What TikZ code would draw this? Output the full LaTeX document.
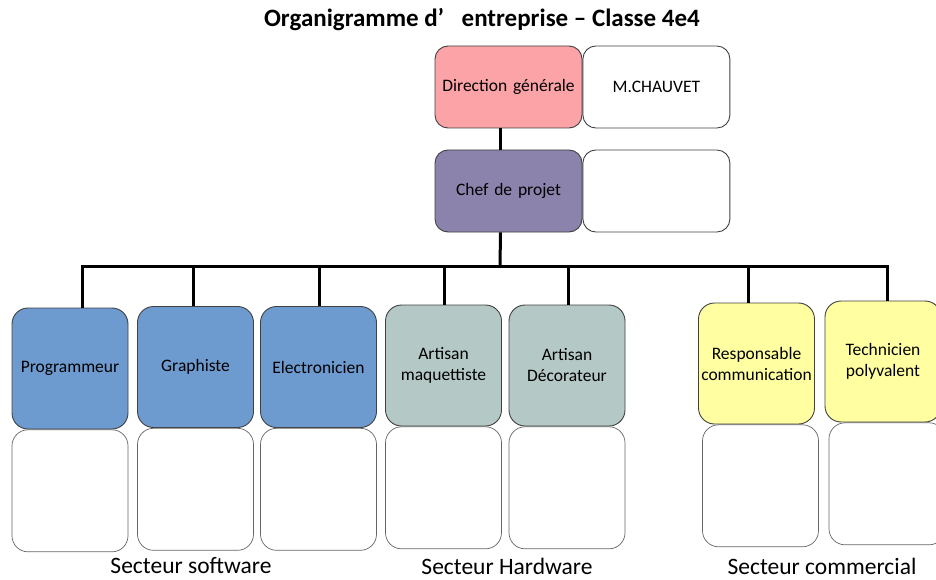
\documentclass[tikz,border=0pt]{standalone}
\usepackage{fontspec}
\setmainfont{Carlito}
\usetikzlibrary{positioning}
\definecolor{dirpink}{HTML}{FBA3A7}
\definecolor{chefpurple}{HTML}{8C83AD}
\definecolor{softblue}{HTML}{6E9BCF}
\definecolor{hardgrey}{HTML}{B4C8C5}
\definecolor{comyellow}{HTML}{FFFFA1}
\begin{document}
\begin{tikzpicture}[
        x=1pt, y=-1pt,
        node distance=0pt,
        head/.style={rectangle, draw=black!75, line width=0.9pt, rounded corners=13pt, minimum width=147pt, minimum height=82pt, text width=143pt, align=center, inner sep=2pt, font=\fontsize{17.5}{21}\selectfont},
        role/.style={rectangle, draw=black!75, line width=0.9pt, rounded corners=16pt, minimum width=116pt, minimum height=121pt, text width=114pt, align=center, inner sep=1pt, font=\fontsize{17.5}{21}\selectfont},
        empty/.style={role, draw=black!60, line width=0.7pt, minimum height=122pt, fill=white},
        sector/.style={font=\fontsize{23.5}{27}\selectfont},
        line/.style={draw, line width=3pt}
    ]
        \useasboundingbox (0,0) rectangle (936,580);
        \node [font=\fontsize{25}{29}\selectfont\bfseries] (title) at (482,20) {Organigramme d’\hspace{0.7em}entreprise – Classe 4e4};

        \node [head, fill=dirpink] (dir) at (508.5,87) {Direction générale};
        \node [head, minimum width=145pt, right=of dir] (dirname) {M.CHAUVET};
        \node [head, fill=chefpurple] (chef) at (508.5,191) {Chef de projet};
        \node [head, minimum width=145pt, right=of chef] (chefname) {};

        \node [role, fill=softblue] (prog) at (70,368.5) {Programmeur};
        \node [role, fill=softblue] (graph) at (195.5,367) {Graphiste};
        \node [role, fill=softblue] (elec) at (318.5,367) {Electronicien};
        \node [role, fill=hardgrey] (maq) at (443.5,365.5) {Artisan\\maquettiste};
        \node [role, fill=hardgrey] (deco) at (567,365.5) {Artisan\\Décorateur};
        \node [role, fill=comyellow] (resp) at (756.5,363.5) {Responsable\\communication};
        \node [role, fill=comyellow] (tech) at (883,361.5) {Technicien\\polyvalent};

        \node [empty, below=of prog] (progname) {};
        \node [empty, below=of graph] (graphname) {};
        \node [empty, below=of elec] (elecname) {};
        \node [empty, below=of maq] (maqname) {};
        \node [empty, below=of deco] (deconame) {};
        \node [empty, below=of resp, xshift=4pt] (respname) {};
        \node [empty, below=of tech, xshift=4pt] (techname) {};

        \node [sector] (soft) at (191,566) {Secteur software};
        \node [sector] (hard) at (507,566) {Secteur Hardware};
        \node [sector] (com) at (822,566) {Secteur commercial};

        \coordinate (bus) at (500,266);
        \path [line] ([xshift=-8pt]dir.south) -- ([xshift=-8pt]chef.north);
        \path [line] ([xshift=-8pt]chef.south) -- (bus);
        \foreach \n/\s in {prog/12, graph/-2.5, elec/0.5, maq/0.5, deco/1, resp/-8.5, tech/4}
            \path [line] (bus) -| ([xshift=\s pt]\n.north);
    \end{tikzpicture}
\end{document}
